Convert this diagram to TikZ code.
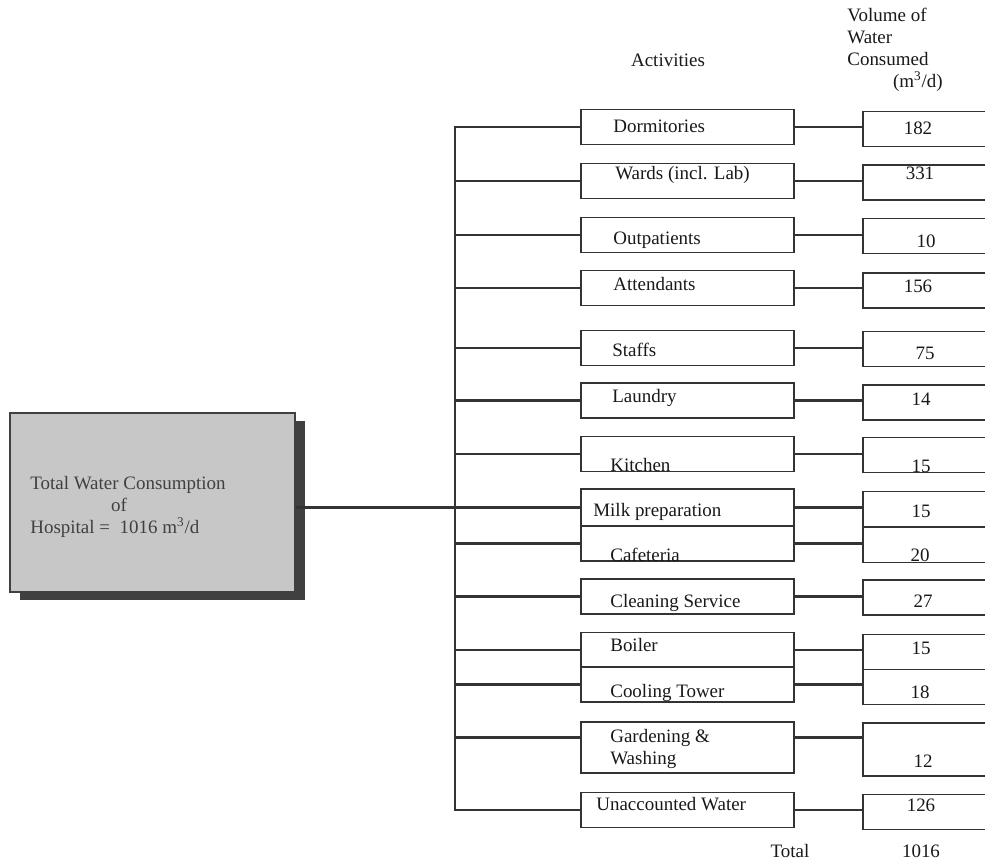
\documentclass[tikz,border=0pt]{standalone}
\usepackage{fontspec}
\setmainfont{Liberation Serif}
\usetikzlibrary{shadows}

\begin{document}
\begin{tikzpicture}[
    x=0.02cm, y=-0.02cm,
    every node/.style={font=\fontsize{10.8}{12.4}\selectfont, text=black!90},
    conn/.style={line width=1.4pt, draw=black!80},
    actbox/.style={draw=black!80, line width=1.1pt, minimum width=4.26cm, minimum height=0.7cm, inner sep=0pt},
    valbox/.style={draw=black!80, line width=1.1pt, minimum width=2.94cm, minimum height=0.7cm, inner sep=0pt},
    acttext/.style={anchor=west, inner sep=0pt, text height=1.6ex, text depth=0.4ex},
    valtext/.style={inner sep=0pt, text height=1.6ex, text depth=0.4ex},
    totalbox/.style={draw=black!75, line width=1pt, fill=black!22, minimum width=5.7cm, minimum height=3.58cm,
        drop shadow={opacity=1, fill=black!75, shadow xshift=0.2cm, shadow yshift=-0.16cm}}
]
\useasboundingbox[fill=white] (0,0) rectangle (985,863);

% === Headings ===
\node[valtext] (acthead) at (668,62) {Activities};
\node[align=left, anchor=west, inner sep=0pt] (volhead) at (847,50)
    {Volume of\\Water\\Consumed\\\hspace*{26pt}(m\textsuperscript{3}/d)};

% === Total box ===
\node[totalbox] (total) at (152.5,502.5) {};
\node[align=left, anchor=west, inner sep=0pt, text=black!75] (totaltext) at (30,507)
    {Total Water Consumption\\\hspace*{46pt}of\\Hospital =\ \ 1016 m\textsuperscript{3}/d};

% === Activities ===
\node[actbox] (dorm) at (687.5,127) {};
\node[actbox] (ward) at (687.5,181) {};
\node[actbox] (outp) at (687.5,235) {};
\node[actbox] (attd) at (687.5,288) {};
\node[actbox] (staff) at (687.5,348) {};
\node[actbox] (laund) at (687.5,400.5) {};
\node[actbox] (kitch) at (687.5,454) {};
\node[actbox, minimum height=0.74cm] (milk) at (687.5,507.5) {};
\node[actbox] (cafe) at (687.5,543.5) {};
\node[actbox] (clean) at (687.5,596.5) {};
\node[actbox] (boil) at (687.5,650) {};
\node[actbox] (cool) at (687.5,684.5) {};
\node[actbox, minimum height=1.02cm] (garden) at (687.5,747.5) {};
\node[actbox] (unacc) at (687.5,810) {};

\node[acttext] (tdorm) at (613,128) {Dormitories};
\node[acttext] (tward) at (615,175) {Wards (incl. Lab)};
\node[acttext] (toutp) at (613,240) {Outpatients};
\node[acttext] (tattd) at (613,286) {Attendants};
\node[acttext] (tstaff) at (612,352) {Staffs};
\node[acttext] (tlaund) at (612,398) {Laundry};
\node[acttext] (tkitch) at (610,467) {Kitchen};
\node[acttext] (tmilk) at (593,512) {Milk preparation};
\node[acttext] (tcafe) at (610,557) {Cafeteria};
\node[acttext] (tclean) at (610,603) {Cleaning Service};
\node[acttext] (tboil) at (610,647) {Boiler};
\node[acttext] (tcool) at (610,693) {Cooling Tower};
\node[anchor=west, align=left, inner sep=0pt] (tgarden) at (610,749) {Gardening \&\\Washing};
\node[acttext] (tunacc) at (596,806) {Unaccounted Water};

% === Volumes ===
\node[valbox] (vdorm) at (936.5,129) {};
\node[valbox] (vward) at (936.5,182.5) {};
\node[valbox] (voutp) at (936.5,236) {};
\node[valbox] (vattd) at (936.5,290.5) {};
\node[valbox] (vstaff) at (936.5,349) {};
\node[valbox] (vlaund) at (936.5,402.5) {};
\node[valbox] (vkitch) at (936.5,455) {};
\node[valbox] (vmilk) at (936.5,509) {};
\node[valbox] (vcafe) at (936.5,545) {};
\node[valbox] (vclean) at (936.5,597.5) {};
\node[valbox] (vboil) at (936.5,652) {};
\node[valbox] (vcool) at (936.5,687) {};
\node[valbox, minimum height=1.06cm] (vgarden) at (936.5,749.5) {};
\node[valbox] (vunacc) at (936.5,812) {};

\node[valtext] (ndorm) at (918,130) {182};
\node[valtext] (nward) at (920,175) {331};
\node[valtext] (noutp) at (926,243) {10};
\node[valtext] (nattd) at (918,288) {156};
\node[valtext] (nstaff) at (925,355) {75};
\node[valtext] (nlaund) at (921,401) {14};
\node[valtext] (nkitch) at (921,468) {15};
\node[valtext] (nmilk) at (921,513) {15};
\node[valtext] (ncafe) at (920,557) {20};
\node[valtext] (nclean) at (923,603) {27};
\node[valtext] (nboil) at (921,650) {15};
\node[valtext] (ncool) at (920,694) {18};
\node[valtext] (ngarden) at (923,763) {12};
\node[valtext] (nunacc) at (921,807) {126};

\node[valtext] (totlabel) at (790,853) {Total};
\node[valtext] (totvalue) at (921,853) {1016};

% === Connectors ===
\coordinate (trunk) at (455,0);
\draw[conn] (dorm.west) -| (trunk |- unacc.west) -- (unacc.west);
\foreach \n in {ward,outp,attd,staff,laund,kitch,cafe,clean,boil,cool}
    \draw[conn] (\n.west) -- (\n.west -| trunk);
\draw[conn] ([yshift=0.2cm]garden.west) -- ([yshift=0.2cm]garden.west -| trunk);
\draw[conn] (milk.west) -- (milk.west -| total.east);

\foreach \n in {dorm,ward,outp,attd,staff,laund,kitch,milk,cafe,clean,boil,cool,unacc}
    \draw[conn] (\n.east) -- (\n.east -| v\n.west);
\draw[conn] ([yshift=0.2cm]garden.east) -- ([yshift=0.2cm]garden.east -| vgarden.west);

\end{tikzpicture}
\end{document}
